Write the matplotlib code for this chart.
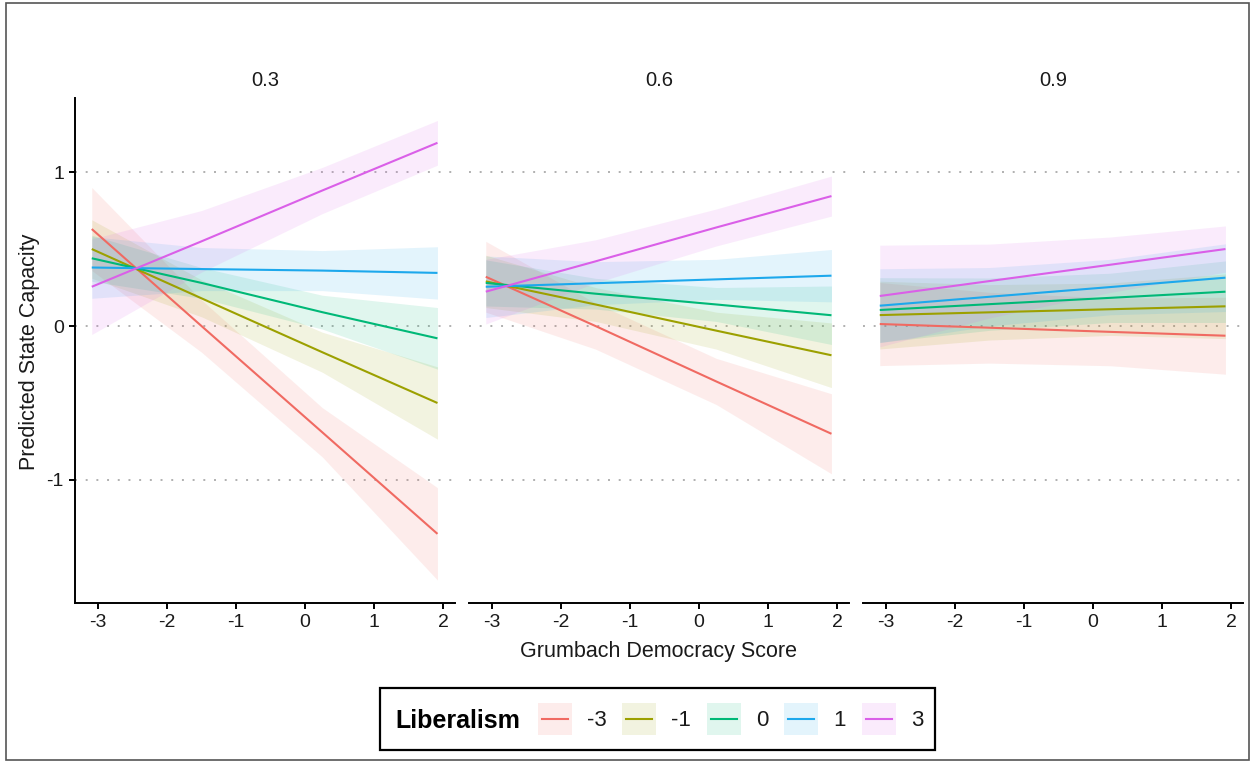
import matplotlib
matplotlib.use('Agg')
import matplotlib.pyplot as plt
from matplotlib.patches import Rectangle

plt.rcParams['font.family'] = ['Liberation Sans', 'DejaVu Sans']

# ---------------- data ----------------
facets = ['0.3', '0.6', '0.9']
levels = ['-3', '-1', '0', '1', '3']
colors = ['#F06A62', '#9CA000', '#00B877', '#1DA8EC', '#DA5FE8']
x_pts = [-3.09, -1.5, 0.25, 1.92]
x_ticks = [-3, -2, -1, 0, 1, 2]
y_ticks = [-1, 0, 1]

# predicted values at x_pts, per facet and Liberalism level
fit_03 = {'-3': [0.63, 0.00, -0.69, -1.35],
          '-1': [0.50, 0.18, -0.17, -0.50],
          '0':  [0.44, 0.28, 0.09, -0.08],
          '1':  [0.38, 0.37, 0.36, 0.345],
          '3':  [0.255, 0.55, 0.88, 1.19]}
fit_06 = {'-3': [0.32, 0.00, -0.36, -0.70],
          '-1': [0.29, 0.14, -0.03, -0.19],
          '0':  [0.28, 0.21, 0.14, 0.07],
          '1':  [0.255, 0.278, 0.303, 0.327],
          '3':  [0.223, 0.42, 0.64, 0.844]}
fit_09 = {'-3': [0.013, -0.011, -0.038, -0.063],
          '-1': [0.071, 0.089, 0.109, 0.128],
          '0':  [0.104, 0.142, 0.183, 0.223],
          '1':  [0.132, 0.19, 0.253, 0.314],
          '3':  [0.195, 0.292, 0.398, 0.50]}

# confidence band half-widths at x_pts
hw_03 = {'-3': [0.27, 0.17, 0.16, 0.30],
         '-1': [0.19, 0.12, 0.13, 0.235],
         '0':  [0.15, 0.10, 0.11, 0.20],
         '1':  [0.20, 0.14, 0.13, 0.17],
         '3':  [0.31, 0.20, 0.15, 0.145]}
hw_06 = {'-3': [0.23, 0.15, 0.15, 0.26],
         '-1': [0.17, 0.11, 0.12, 0.21],
         '0':  [0.15, 0.10, 0.11, 0.19],
         '1':  [0.20, 0.14, 0.13, 0.17],
         '3':  [0.21, 0.14, 0.12, 0.13]}
hw_09 = {'-3': [0.27, 0.23, 0.22, 0.25],
         '-1': [0.22, 0.18, 0.17, 0.21],
         '0':  [0.21, 0.17, 0.16, 0.20],
         '1':  [0.24, 0.19, 0.18, 0.22],
         '3':  [0.33, 0.24, 0.18, 0.15]}

fits = [fit_03, fit_06, fit_09]
hws = [hw_03, hw_06, hw_09]

# ---------------- figure ----------------
W, H = 1252, 763
fig = plt.figure(figsize=(W / 100, H / 100), dpi=100)
fig.patch.set_facecolor('white')


def px_rect(l, t, w, h):
    return [l / W, 1 - (t + h) / H, w / W, h / H]


panel_lefts = [75, 469, 863]
panel_top, panel_w, panel_h = 98, 380, 505
xlim = (-3.333, 2.174)
ylim = (-1.799, 1.481)
band_alpha = 0.12

for i, (facet, fit, hw) in enumerate(zip(facets, fits, hws)):
    ax = fig.add_axes(px_rect(panel_lefts[i], panel_top, panel_w, panel_h))
    ax.set_xlim(*xlim)
    ax.set_ylim(*ylim)
    ax.patch.set_visible(False)
    for yv in y_ticks:
        ax.axhline(yv, color='#b0b0b0', lw=1.4, ls=(0, (1, 4.5)), zorder=0)
    for lev, col in zip(levels, colors):
        f = fit[lev]
        h = hw[lev]
        lo = [a - b for a, b in zip(f, h)]
        hi = [a + b for a, b in zip(f, h)]
        ax.fill_between(x_pts, lo, hi, color=col, alpha=band_alpha, lw=0,
                        zorder=1)
    for lev, col in zip(levels, colors):
        ax.plot(x_pts, fit[lev], color=col, lw=1.5, zorder=3,
                solid_capstyle='butt')
    for s in ['top', 'right']:
        ax.spines[s].set_visible(False)
    ax.spines['bottom'].set_linewidth(1.4)
    ax.set_xticks(x_ticks)
    ax.set_xticklabels([str(t) for t in x_ticks])
    ax.tick_params(axis='x', length=4, width=1.4, labelsize=14, pad=4,
                   color='black', labelcolor='#1a1a1a')
    if i == 0:
        ax.spines['left'].set_linewidth(1.4)
        ax.set_yticks(y_ticks)
        ax.set_yticklabels([str(t) for t in y_ticks])
        ax.tick_params(axis='y', length=4, width=1.4, labelsize=14, pad=4,
                       color='black', labelcolor='#1a1a1a')
    else:
        ax.spines['left'].set_visible(False)
        ax.set_yticks([])
    ax.text(0.5, 1 + (panel_top - 80) / panel_h, facet, transform=ax.transAxes,
            ha='center', va='center', fontsize=14.5, color='#1a1a1a')

fig.text(659 / W, 1 - 652 / H, 'Grumbach Democracy Score', ha='center',
         va='center', fontsize=15.5, color='#1a1a1a')
fig.text(30 / W, 1 - 352 / H, 'Predicted State Capacity', ha='center',
         va='center', rotation=90, fontsize=15.5, color='#1a1a1a')

# ---------------- overlay: legend and border ----------------
ov = fig.add_axes([0, 0, 1, 1])
ov.set_xlim(0, W)
ov.set_ylim(H, 0)
ov.axis('off')

ov.add_patch(Rectangle((6, 3), 1243, 757, fill=False, ec='#555555', lw=1.2))
ov.add_patch(Rectangle((380, 688), 555, 62, fill=False, ec='black', lw=1.6))
ov.text(395, 721, 'Liberalism', ha='left', va='center', fontsize=18,
        fontweight='bold', color='black')
key_lefts = [538, 622, 707, 784, 862]
for kl, lev, col in zip(key_lefts, levels, colors):
    ov.add_patch(Rectangle((kl, 703), 34, 32, color=col, alpha=band_alpha,
                           lw=0))
    ov.plot([kl + 4, kl + 30], [719, 719], color=col, lw=1.5)
    ov.text(kl + 49, 721, lev, ha='left', va='center', fontsize=16,
            color='#1a1a1a')

fig.savefig('out.png', dpi=100)
